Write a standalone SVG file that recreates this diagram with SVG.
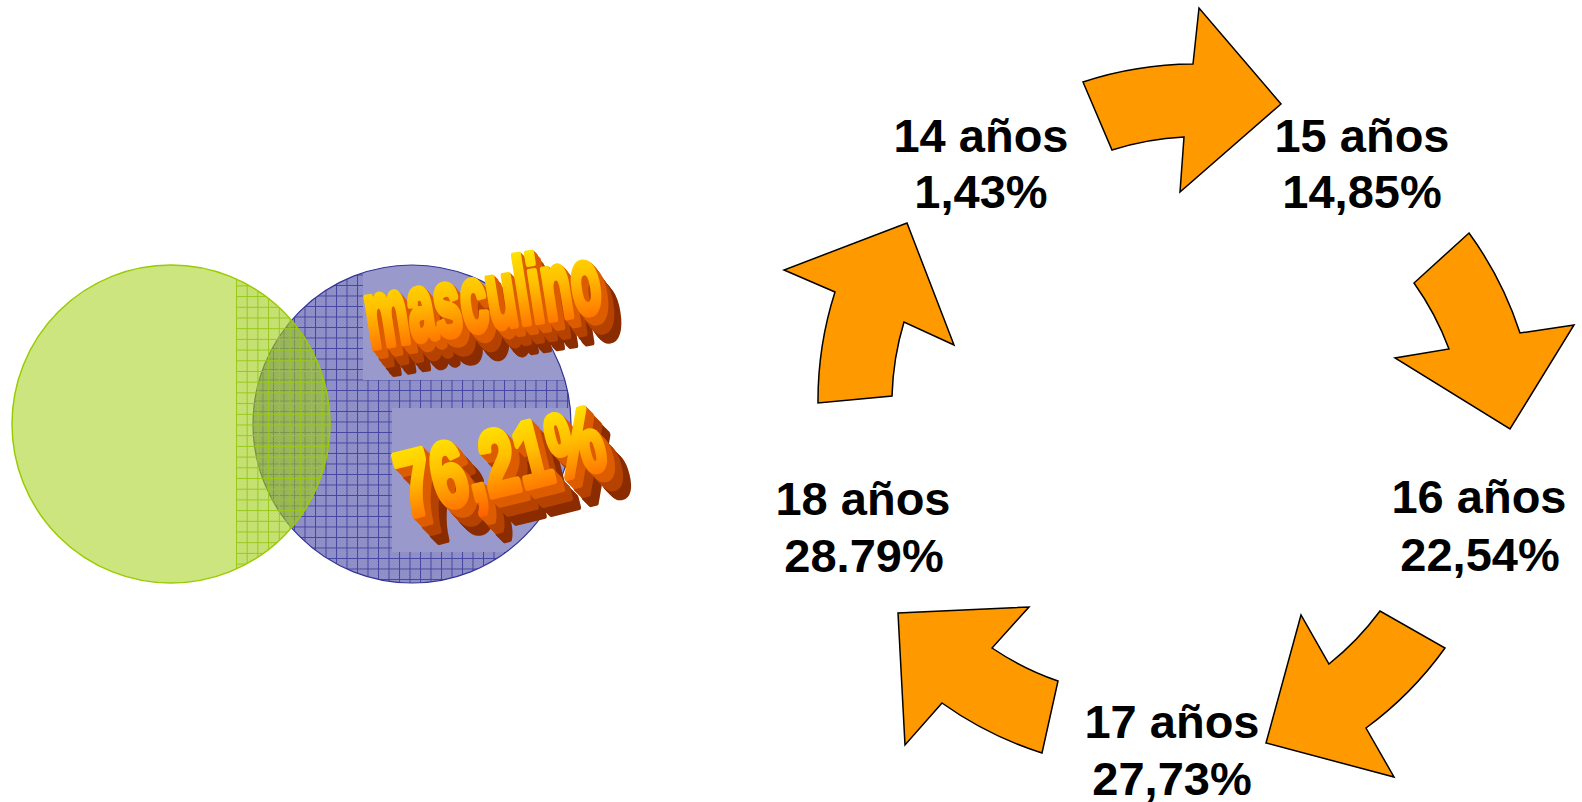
<svg xmlns="http://www.w3.org/2000/svg" xmlns:xlink="http://www.w3.org/1999/xlink" width="1582" height="802" viewBox="0 0 1582 802">
<style>
.lbl{font-family:"Liberation Sans",Arial,sans-serif;font-weight:bold;font-size:47px;fill:#000;text-anchor:middle}
.arrow{fill:#FF9900;stroke:#000;stroke-width:1.5;stroke-linejoin:miter}
.wa{font-family:"Liberation Sans",Arial,sans-serif;font-weight:bold;fill:url(#waGrad);stroke:url(#waGrad);stroke-linejoin:round}
</style>
<defs>
<pattern id="chkB" patternUnits="userSpaceOnUse" width="3" height="3">
<rect x="0" y="0" width="1.5" height="1.5" fill="#6f6fb8" fill-opacity="0.45"/>
<rect x="1.5" y="1.5" width="1.5" height="1.5" fill="#6f6fb8" fill-opacity="0.45"/>
</pattern>
<pattern id="gridB" patternUnits="userSpaceOnUse" x="252" y="264" width="10.5" height="10.5">
<rect width="10.5" height="10.5" fill="url(#chkB)"/>
<path d="M0 0.5H10.5M0.5 0V10.5" stroke="#33339a" stroke-width="1" stroke-opacity="0.8" fill="none"/>
</pattern>
<pattern id="chkG" patternUnits="userSpaceOnUse" width="3" height="3">
<rect x="0" y="0" width="1.5" height="1.5" fill="#a8d040" fill-opacity="0.4"/>
<rect x="1.5" y="1.5" width="1.5" height="1.5" fill="#a8d040" fill-opacity="0.4"/>
</pattern>
<pattern id="gridG" patternUnits="userSpaceOnUse" x="236" y="264" width="10.7" height="10.7">
<rect width="10.7" height="10.7" fill="url(#chkG)"/>
<path d="M0 0.5H10.7M0.5 0V10.7" stroke="#99c81a" stroke-width="1" fill="none"/>
</pattern>
<clipPath id="clipB"><circle cx="412" cy="424" r="159"/></clipPath>
<clipPath id="clipG"><circle cx="171" cy="424" r="159"/></clipPath>
<linearGradient id="waGrad" x1="0" y1="0" x2="0" y2="1">
<stop offset="0" stop-color="#FFF000"/>
<stop offset="0.45" stop-color="#FFC000"/>
<stop offset="1" stop-color="#FF5A00"/>
</linearGradient>
<filter id="ext1" filterUnits="userSpaceOnUse" x="330" y="220" width="340" height="200" color-interpolation-filters="sRGB">
<feOffset in="SourceAlpha" dx="0.8" dy="1.1" result="s1"/>
<feMerge result="b1"><feMergeNode in="SourceAlpha"/><feMergeNode in="s1"/></feMerge>
<feOffset in="b1" dx="1.6" dy="2.2" result="s2"/>
<feMerge result="b2"><feMergeNode in="b1"/><feMergeNode in="s2"/></feMerge>
<feOffset in="b2" dx="3.2" dy="4.4" result="s3"/>
<feMerge result="b3"><feMergeNode in="b2"/><feMergeNode in="s3"/></feMerge>
<feOffset in="b3" dx="0.8" dy="1.1" result="near"/>
<feOffset in="b3" dx="7.2" dy="9.9" result="mid"/>
<feOffset in="b3" dx="13.6" dy="18.7" result="far"/>
<feFlood flood-color="#8A2C00" result="cf"/>
<feComposite in="cf" in2="far" operator="in" result="farC"/>
<feFlood flood-color="#B54200" result="cm"/>
<feComposite in="cm" in2="mid" operator="in" result="midC"/>
<feFlood flood-color="#DD5C00" result="cn"/>
<feComposite in="cn" in2="near" operator="in" result="nearC"/>
<feMerge><feMergeNode in="farC"/><feMergeNode in="midC"/><feMergeNode in="nearC"/><feMergeNode in="SourceGraphic"/></feMerge>
</filter>
<filter id="ext2" filterUnits="userSpaceOnUse" x="370" y="370" width="300" height="210" color-interpolation-filters="sRGB">
<feOffset in="SourceAlpha" dx="1" dy="1.1" result="s1"/>
<feMerge result="b1"><feMergeNode in="SourceAlpha"/><feMergeNode in="s1"/></feMerge>
<feOffset in="b1" dx="2" dy="2.2" result="s2"/>
<feMerge result="b2"><feMergeNode in="b1"/><feMergeNode in="s2"/></feMerge>
<feOffset in="b2" dx="4" dy="4.4" result="s3"/>
<feMerge result="b3"><feMergeNode in="b2"/><feMergeNode in="s3"/></feMerge>
<feOffset in="b3" dx="1" dy="1.1" result="near"/>
<feOffset in="b3" dx="9" dy="9.9" result="mid"/>
<feOffset in="b3" dx="17" dy="18.7" result="far"/>
<feFlood flood-color="#8A2C00" result="cf"/>
<feComposite in="cf" in2="far" operator="in" result="farC"/>
<feFlood flood-color="#B54200" result="cm"/>
<feComposite in="cm" in2="mid" operator="in" result="midC"/>
<feFlood flood-color="#DD5C00" result="cn"/>
<feComposite in="cn" in2="near" operator="in" result="nearC"/>
<feMerge><feMergeNode in="farC"/><feMergeNode in="midC"/><feMergeNode in="nearC"/><feMergeNode in="SourceGraphic"/></feMerge>
</filter>
</defs>
<rect width="1582" height="802" fill="#fff"/>

<g id="venn">
<g id="circle-blue">
<circle cx="412" cy="424" r="159" fill="#9999CC"/>
<path d="M252 264H363V380H572V408H392V552H572V584H252Z" fill="url(#gridB)" clip-path="url(#clipB)"/>
<circle cx="412" cy="424" r="159" fill="none" stroke="#333399" stroke-width="1.2"/>
</g>
<g id="circle-green">
<circle cx="171" cy="424" r="159" fill="#99CC00" fill-opacity="0.5"/>
<rect x="236" y="264" width="96" height="321" fill="url(#gridG)" clip-path="url(#clipG)"/>
<circle cx="171" cy="424" r="159" fill="none" stroke="#99CC00" stroke-width="1.5"/>
</g>
<g id="wordart-masculino" filter="url(#ext1)">
<text class="wa" font-size="80" stroke-width="6" transform="translate(370,348) rotate(-9) scale(0.6,1.18)">masculino</text>
</g>
<g id="wordart-pct" filter="url(#ext2)">
<text class="wa" font-size="72" stroke-width="5" transform="translate(406,518) rotate(-14) scale(0.86,1.28)">76,21%</text>
</g>
</g>

<g id="connectors">
<path class="arrow" d="M1083 82A356 356 0 0 1 1193 64L1199 8L1281 104L1180 192L1184 137A283 283 0 0 0 1112 150Z"/>
<path class="arrow" d="M1469 233A356 356 0 0 1 1520 333L1574 325L1510 429L1395 358L1449 349A283 283 0 0 0 1414 283Z"/>
<path class="arrow" d="M1445 648A358 358 0 0 1 1366 728L1394 777L1266 743L1301 615L1329 664A286 286 0 0 0 1380 611Z"/>
<path class="arrow" d="M1042 753A358 358 0 0 1 942 703L905 745L898 613L1029 607L992 648A286 286 0 0 0 1058 681Z"/>
<path class="arrow" d="M818 403A356 356 0 0 1 835 292L784 270L907 223L954 345L904 322A283 283 0 0 0 892 396Z"/>
</g>

<g id="node-14">
<text class="lbl" x="981" y="152">14 años</text>
<text class="lbl" x="981" y="208">1,43%</text>
</g>
<g id="node-15">
<text class="lbl" x="1362" y="152">15 años</text>
<text class="lbl" x="1362" y="208">14,85%</text>
</g>
<g id="node-16">
<text class="lbl" x="1479" y="513">16 años</text>
<text class="lbl" x="1480" y="571">22,54%</text>
</g>
<g id="node-17">
<text class="lbl" x="1172" y="738">17 años</text>
<text class="lbl" x="1172" y="795">27,73%</text>
</g>
<g id="node-18">
<text class="lbl" x="863" y="515">18 años</text>
<text class="lbl" x="864" y="572">28.79%</text>
</g>
</svg>
